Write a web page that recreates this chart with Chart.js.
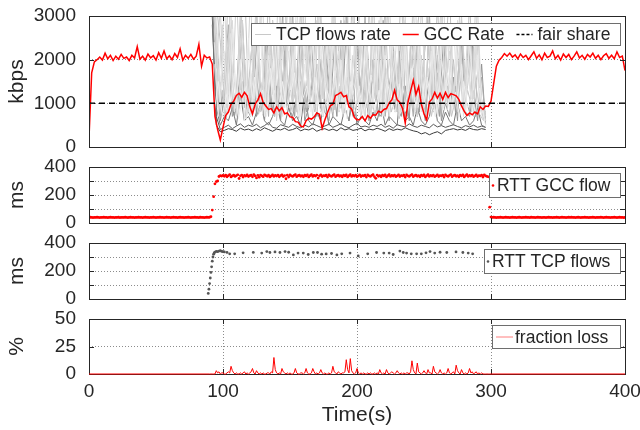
<!DOCTYPE html>
<html>
<head>
<meta charset="utf-8">
<script src="https://cdn.jsdelivr.net/npm/chart.js@4.4.1/dist/chart.umd.min.js"></script>
<style>
  html, body { margin: 0; padding: 0; background: #fff; }
  #wrap { position: relative; width: 640px; height: 430px; overflow: hidden; }
  #wrap canvas { position: absolute; left: 0; }
</style>
</head>
<body>
<div id="wrap">
  <canvas id="cRate" width="640" height="157" style="top:0px"></canvas>
  <canvas id="cRttGcc" width="640" height="76" style="top:157px"></canvas>
  <canvas id="cRttTcp" width="640" height="76" style="top:233px"></canvas>
  <canvas id="cLoss" width="640" height="121" style="top:309px"></canvas>
</div>
<script>
// ---- data ----
const fairShare = 1000;                       // kbps

// tick values and labels
const timeTicks = [0, 100, 200, 300, 400];
const rateTicks = [0, 1000, 2000, 3000];
const rateTickLabels = ['0', '1000', '2000', '3000'];
const rttTicks = [0, 100, 200, 300, 400];
const rttTickLabels = ['0', '', '200', '', '400'];
const lossTicks = [0, 25, 50];
const lossTickLabels = ['0', '25', '50'];

// GCC sending rate, one sample every 2 s from t = 0
const gccStart = 0, gccStep = 2;
const gccRate = [
  200, 1700, 1950, 2000, 2060, 1990, 2150, 2020, 2100, 1980,
  2080, 2010, 2120, 2030, 2060, 1980, 2100, 2040, 2300, 2010,
  2080, 1990, 2130, 2040, 2090, 1990, 2160, 2030, 2200, 2020,
  2090, 2000, 2140, 2050, 2250, 1990, 2100, 2030, 2120, 2010,
  2080, 2350, 1850, 2100, 2040, 2060, 1900, 700, 400, 160,
  450, 720, 800, 980, 1050, 1180, 1230, 1140, 1250, 1170,
  920, 760, 980, 1080, 1220, 1020, 940, 860, 880, 780,
  920, 830, 900, 760, 780, 690, 680, 580, 570, 480,
  460, 600, 660, 640, 690, 780, 750, 430, 620, 790,
  940, 980, 1180, 1210, 1250, 1150, 1180, 920, 870, 680,
  620, 630, 700, 600, 720, 660, 740, 730, 820, 790,
  860, 880, 1010, 1080, 1300, 1080, 1020, 880, 550, 1020,
  1280, 1530, 1200, 1380, 980, 760, 620, 1030, 1100, 1250,
  1120, 1230, 1090, 1250, 1130, 1220, 1200, 1170, 1090, 940,
  820, 720, 780, 740, 800, 760, 920, 860, 940, 930,
  1050, 1450, 1850, 1990, 2050, 2140, 2080, 2150, 2060, 2110,
  2020, 2130, 2050, 2100, 2000, 2090, 2180, 2030, 2110, 2000,
  2150, 2050, 2080, 2200, 2020, 2100, 1990, 2130, 2050, 2120,
  2000, 2080, 2180, 2040, 2100, 2010, 2120, 2060, 2150, 2030,
  2100, 2000, 2090, 2140, 2030, 2100, 2020, 2180, 2050, 2080,
  1750
];

// competing TCP flows, one sample every 3 s; two groups with staggered start times
const tcpStep = 3;
const tcpStartA = 92, tcpStartB = 93.5;
const tcpColorsA = ['#e8e8e8', '#dadada', '#d0d0d0', '#c2c2c2', '#acacac', '#939393', '#767676', '#555555', '#3a3a3a'];
const tcpColorsB = ['#eeeeee', '#e2e2e2', '#d4d4d4', '#c4c4c4', '#9a9a9a'];
const tcpFlowsA = [
  [3500, 3000, 1500, 2200, 800, 2700, 1100, 2000, 600, 2500,
   900, 1800, 2600, 700, 2100, 1000, 2800, 1300, 900, 2400,
   1500, 2900, 700, 1900, 1100, 2500, 800, 2200, 1600, 700,
   2600, 1000, 2000, 900, 2800, 1200, 1700, 700, 2400, 1300,
   900, 2700, 1100, 2100, 700, 2500, 1400, 900, 2300, 1000,
   1800, 2900, 800, 1600, 1200, 2600, 700, 2000, 1500, 900,
   2700, 1100, 1900, 800, 2400, 1300, 2100, 900, 500],
  [3800, 2600, 900, 3400, 1200, 2900, 700, 3100, 1500, 800,
   2700, 1100, 3300, 900, 2400, 1600, 700, 3000, 1300, 2200,
   800, 3500, 1000, 2600, 1400, 700, 2900, 1200, 2100, 900,
   3200, 1100, 2500, 800, 1800, 3100, 1000, 2300, 1500, 700,
   2800, 1200, 3400, 900, 2000, 1300, 2700, 800, 3000, 1100,
   2400, 900, 3300, 1400, 800, 2600, 1000, 3100, 1200, 2200,
   900, 2900, 1500, 800, 2500, 1100, 3200, 1000, 600],
  [4000, 1800, 3200, 700, 2500, 1000, 3600, 1300, 2100, 900,
   1700, 3400, 800, 2300, 1200, 2900, 600, 1900, 3500, 1000,
   2600, 800, 2000, 3300, 1100, 1700, 900, 3100, 1400, 2400,
   800, 2700, 1300, 3600, 900, 2100, 1200, 2800, 700, 3200,
   1500, 2500, 800, 2200, 3500, 1000, 1800, 900, 2900, 1300,
   3400, 700, 2100, 1100, 2800, 900, 1900, 3300, 1000, 2500,
   1200, 800, 3000, 1400, 2300, 700, 2700, 1100, 700],
  [3900, 3300, 2400, 1100, 3700, 1400, 900, 2600, 3800, 1200,
   1000, 3100, 1500, 900, 3600, 1200, 2300, 800, 1700, 3900,
   1100, 1500, 3200, 900, 2400, 1300, 3700, 1000, 1800, 900,
   3400, 1200, 900, 2900, 1600, 3800, 1000, 1400, 2500, 900,
   3600, 1100, 1700, 3200, 900, 2200, 1400, 3700, 1000, 1600,
   900, 2700, 3500, 1200, 1800, 900, 3300, 1300, 2100, 3600,
   1000, 1500, 2800, 900, 3400, 1200, 1700, 900, 800],
  [3600, 2200, 700, 1500, 2800, 800, 1200, 3000, 900, 1400,
   700, 2400, 1000, 1800, 700, 2900, 1100, 800, 2200, 1300,
   3100, 800, 1500, 700, 2600, 1000, 1900, 800, 2500, 1200,
   700, 1700, 2900, 900, 1300, 700, 2300, 1100, 3000, 800,
   1600, 900, 2700, 700, 1400, 2000, 800, 2800, 1000, 1500,
   700, 2500, 1200, 800, 3100, 900, 1700, 700, 2400, 1000,
   2000, 700, 2900, 1100, 800, 2300, 900, 1600, 600],
  [3200, 1500, 600, 1100, 2300, 700, 900, 1800, 600, 1300,
   2500, 700, 1000, 600, 1900, 800, 1400, 600, 2200, 900,
   700, 1200, 2600, 600, 900, 1600, 700, 2000, 800, 600,
   1500, 700, 2400, 900, 600, 1100, 2800, 700, 1300, 600,
   2000, 800, 700, 1700, 600, 2300, 900, 700, 1400, 600,
   2600, 700, 1100, 600, 1800, 800, 2100, 600, 1000, 700,
   1600, 600, 2400, 800, 700, 1300, 600, 1900, 500],
  [2800, 900, 500, 700, 600, 900, 500, 1200, 600, 700,
   500, 800, 1500, 600, 500, 700, 1000, 600, 500, 900,
   600, 700, 500, 1300, 600, 500, 800, 600, 1100, 500,
   700, 600, 500, 900, 600, 1400, 500, 700, 600, 500,
   800, 600, 1000, 500, 700, 600, 500, 1600, 600, 700,
   500, 900, 600, 500, 700, 1200, 600, 500, 800, 600,
   500, 1000, 600, 700, 500, 600, 900, 500, 450],
  [3000, 700, 400, 450, 500, 420, 480, 530, 450, 500,
   470, 520, 440, 490, 560, 450, 430, 510, 480, 450,
   520, 470, 440, 500, 460, 530, 490, 450, 480, 520,
   450, 490, 530, 470, 440, 500, 540, 460, 480, 450,
   500, 470, 520, 450, 490, 430, 510, 480, 460, 530,
   480, 450, 500, 470, 440, 520, 460, 490, 450, 480,
   510, 470, 440, 490, 460, 500, 450, 480, 450],
  [3500, 500, 350, 380, 420, 400, 360, 430, 390, 410,
   370, 420, 380, 440, 400, 360, 410, 390, 430, 380,
   400, 440, 370, 410, 390, 430, 360, 400, 420, 380,
   410, 370, 440, 390, 420, 380, 400, 430, 370, 410,
   390, 430, 400, 360, 420, 380, 410, 390, 440, 400,
   370, 350, 300, 330, 280, 320, 350, 300, 380, 400,
   420, 390, 410, 380, 430, 400, 390, 420, 400]
];
const tcpFlowsB = [
  [800, 1500, 700, 1200, 900, 1700, 650, 1100, 1400, 700,
   1600, 900, 1300, 700, 1800, 1000, 750, 1500, 850, 1200,
   1700, 700, 1100, 1400, 800, 1600, 950, 700, 1300, 1000,
   1750, 800, 1200, 650, 1500, 900, 1400, 750, 1100, 1650,
   850, 1300, 700, 1550, 1000, 800, 1450, 700, 1200, 1800,
   900, 1300, 750, 1600, 1000, 700, 1400, 850, 1700, 950,
   1250, 700, 1500, 900, 1100, 800, 1350, 700],
  [2400, 700, 1900, 1000, 2600, 800, 1500, 2200, 650, 1800,
   1100, 2500, 750, 1400, 2100, 900, 2700, 700, 1600, 1200,
   2300, 800, 1700, 2600, 900, 1300, 2000, 700, 2500, 1000,
   1500, 2200, 750, 1900, 1100, 2600, 800, 1400, 2300, 700,
   1800, 1000, 2500, 850, 1600, 2100, 700, 2400, 1200, 1700,
   800, 2600, 950, 1500, 2200, 700, 1900, 1100, 2500, 800,
   1600, 2300, 700, 1800, 1000, 2400, 900, 600],
  [3600, 1200, 2800, 900, 3300, 1500, 750, 2900, 1100, 3500,
   1000, 2200, 3400, 800, 2600, 1300, 3700, 900, 2000, 3100,
   1200, 800, 3300, 1600, 2400, 900, 3600, 1100, 2700, 1400,
   3200, 850, 2100, 3500, 1000, 1700, 3000, 800, 2500, 3400,
   1100, 2900, 900, 3600, 1500, 2200, 800, 3100, 1300, 2600,
   3400, 1000, 1800, 3200, 900, 2700, 1200, 3500, 850, 2300,
   1400, 3000, 1000, 2500, 800, 3300, 1100, 700],
  [1900, 900, 1300, 650, 1700, 1000, 800, 1500, 700, 1200,
   1800, 750, 1100, 1600, 900, 700, 1400, 1000, 1900, 800,
   1200, 650, 1700, 900, 1300, 800, 1500, 700, 1100, 1800,
   850, 1400, 700, 1600, 1000, 750, 1300, 1900, 900, 1200,
   700, 1500, 1000, 1800, 800, 1100, 650, 1400, 900, 1700,
   750, 1300, 1000, 1600, 700, 1200, 1900, 850, 1400, 700,
   1100, 1700, 800, 1300, 950, 1500, 750, 600],
  [3400, 2000, 800, 1300, 2500, 700, 1100, 2900, 900, 700,
   2100, 1200, 800, 2700, 1000, 700, 1600, 3000, 850, 1300,
   700, 2300, 1100, 800, 2800, 900, 1400, 700, 2000, 1000,
   2600, 800, 1200, 3100, 900, 700, 1700, 1100, 2400, 800,
   1300, 700, 2900, 1000, 1500, 800, 2200, 900, 700, 2700,
   1100, 800, 1800, 3000, 900, 1300, 700, 2500, 1000, 1600,
   800, 2100, 900, 1400, 2800, 700, 1200, 600]
];

// RTT of the GCC flow, one sample per second from t = 0
const rttGccStart = 0, rttGccStep = 1;
const rttGcc = [
  40, 41, 40, 39, 40, 40, 41, 40, 39, 40, 40, 41, 40, 40, 39, 40, 41, 40, 40, 39,
  40, 40, 41, 39, 40, 40, 40, 41, 40, 39, 40, 41, 40, 40, 39, 40, 40, 41, 40, 40,
  39, 40, 41, 40, 40, 39, 40, 40, 41, 40, 39, 40, 40, 41, 40, 40, 39, 40, 41, 40,
  40, 39, 40, 41, 40, 40, 39, 40, 41, 40, 40, 39, 40, 40, 41, 40, 39, 40, 40, 41,
  40, 40, 39, 41, 40, 40, 39, 40, 41, 40, 41, 45, 92, 188, 280, 296, 300, 332, 338, 335,
  340, 334, 342, 330, 338, 345, 329, 336, 341, 333, 339, 344, 318, 337, 342, 328, 340, 335, 343, 332,
  338, 341, 330, 345, 336, 322, 340, 327, 342, 337, 331, 344, 339, 334, 341, 329, 336, 343, 333, 340,
  335, 342, 330, 338, 344, 332, 339, 316, 341, 328, 343, 337, 333, 340, 345, 331, 338, 342, 334, 339,
  330, 341, 336, 343, 329, 338, 345, 333, 340, 335, 342, 321, 337, 344, 332, 339, 336, 341, 328, 343,
  337, 333, 340, 345, 331, 338, 342, 334, 339, 330, 341, 336, 343, 329, 338, 345, 333, 340, 335, 342,
  331, 337, 344, 332, 339, 336, 341, 328, 343, 337, 333, 340, 345, 331, 319, 342, 334, 339, 330, 341,
  336, 343, 329, 338, 345, 333, 340, 335, 342, 331, 337, 344, 332, 339, 336, 341, 328, 343, 337, 333,
  340, 345, 331, 338, 342, 334, 339, 330, 341, 336, 343, 329, 338, 345, 333, 340, 335, 342, 331, 337,
  344, 332, 339, 336, 341, 328, 343, 337, 333, 340, 345, 331, 338, 342, 334, 339, 330, 341, 336, 343,
  329, 338, 345, 333, 340, 335, 342, 331, 337, 344, 332, 339, 336, 341, 328, 343, 337, 333, 330, 113,
  42, 40, 41, 40, 39, 40, 40, 41, 40, 39, 40, 41, 40, 40, 39, 40, 41, 40, 40, 39,
  40, 41, 40, 39, 40, 40, 41, 40, 40, 39, 41, 40, 40, 39, 40, 41, 40, 40, 39, 40,
  40, 39, 40, 41, 40, 40, 39, 40, 40, 41, 40, 39, 40, 41, 40, 40, 39, 40, 41, 40,
  41, 40, 40, 39, 40, 41, 40, 39, 40, 40, 41, 40, 40, 39, 40, 40, 41, 40, 39, 40,
  40, 40, 41, 40, 39, 40, 41, 40, 40, 39, 40, 40, 41, 40, 39, 40, 41, 40, 40, 39,
  40
];

// RTT of the TCP flows (sparse samples)
const rttTcpTime = [89, 89.5, 90, 90.5, 91, 91.5, 92, 92.5, 93, 93.5, 94, 95, 96, 97, 98, 99, 100, 101, 103, 105,
  108.7, 115, 122.6, 128.9, 132.7, 135, 138.8, 142.5, 146.3, 149, 152.5, 156, 159.9, 163.6, 167.4, 170.5, 173.6,
  177, 181, 185, 188.6, 194.8, 200.9, 208, 214.6, 220, 224, 227, 232, 234.5, 237, 240.5, 244.5, 248, 251.5,
  254.5, 258, 262, 267, 273.9, 279, 283, 286.3];
const rttTcp = [40, 70, 110, 150, 190, 230, 270, 300, 320, 330, 335, 340, 338, 342, 345, 340, 338, 336, 333, 323,
  323, 330, 333, 328, 339, 332, 336, 332, 339, 334, 315, 328, 328, 318, 332, 332, 320,
  322, 325, 315, 323, 328, 308, 323, 332, 328, 328, 318, 342, 332, 328, 323, 323, 323, 330,
  339, 328, 334, 332, 336, 332, 328, 323];

// fraction loss (%), one sample per second from t = 90 to 300; zero elsewhere
const lossStart = 90, lossStep = 1;
const lossPct = [
  0, 0, 0, 0, 0, 3, 1, 2, 0, 1,
  1, 0, 0, 1, 2, 1, 7, 3, 1, 0,
  1, 0, 0, 1, 0, 1, 2, 0, 1, 0,
  1, 2, 5, 1, 0, 3, 1, 0, 1, 0,
  1, 0, 0, 1, 1, 0, 2, 1, 15, 4,
  1, 0, 1, 0, 5, 2, 1, 0, 1, 0,
  1, 0, 0, 1, 5, 1, 0, 0, 1, 1,
  0, 1, 5, 1, 0, 0, 1, 5, 2, 0,
  1, 0, 1, 4, 1, 0, 1, 0, 0, 1,
  0, 1, 7, 2, 1, 0, 2, 1, 0, 1,
  1, 2, 13, 4, 1, 14, 3, 1, 0, 1,
  5, 1, 0, 1, 0, 1, 0, 0, 1, 0,
  1, 0, 0, 1, 0, 1, 0, 4, 1, 0,
  1, 0, 4, 1, 0, 1, 2, 1, 0, 1,
  3, 1, 0, 1, 0, 1, 0, 1, 1, 0,
  2, 12, 4, 1, 0, 10, 2, 1, 0, 1,
  3, 1, 0, 4, 1, 1, 0, 7, 2, 1,
  0, 1, 4, 1, 0, 1, 0, 1, 5, 1,
  0, 1, 2, 0, 8, 3, 1, 0, 4, 1,
  0, 1, 0, 1, 5, 1, 2, 0, 1, 2,
  0, 1, 0, 1, 0, 0, 0, 0, 0, 0, 0
];
const timeMin = 0, timeMax = 400;

// ---- helpers ----
const FONT = '"Liberation Sans", Arial, Helvetica, sans-serif';
const INK = '#262626';
const GRID = '#8c8c8c';

const series = (vals, start, step) => vals.map((v, i) => ({ x: start + i * step, y: v }));

// box around the axes with inward tick marks (MATLAB style)
const framePlugin = {
  id: 'frame',
  _draw(chart) {
    const { ctx, chartArea: a, scales: { x, y } } = chart;
    ctx.save();
    ctx.strokeStyle = INK;
    ctx.lineWidth = 1;
    ctx.setLineDash([]);
    ctx.strokeRect(Math.round(a.left) + 0.5, Math.round(a.top) + 0.5,
      Math.round(a.right - a.left), Math.round(a.bottom - a.top));
    ctx.beginPath();
    x.ticks.forEach(t => {
      if (t.value <= x.min || t.value >= x.max) return;
      const p = Math.round(x.getPixelForValue(t.value)) + 0.5;
      ctx.moveTo(p, a.bottom); ctx.lineTo(p, a.bottom - 5);
      ctx.moveTo(p, a.top); ctx.lineTo(p, a.top + 5);
    });
    y.ticks.forEach(t => {
      if (t.value <= y.min || t.value >= y.max) return;
      const p = Math.round(y.getPixelForValue(t.value)) + 0.5;
      ctx.moveTo(a.left, p); ctx.lineTo(a.left + 5, p);
      ctx.moveTo(a.right, p); ctx.lineTo(a.right - 5, p);
    });
    ctx.stroke();
    ctx.restore();
  },
  beforeDatasetsDraw(chart, args, o) { if (o.under) this._draw(chart); },
  afterDatasetsDraw(chart, args, o) { if (!o.under) this._draw(chart); }
};

// legend box inside the plot, anchored to the top-right corner
const legendPlugin = {
  id: 'boxLegend',
  afterDraw(chart, args, o) {
    if (!o.items) return;
    const { ctx, chartArea: a } = chart;
    ctx.save();
    ctx.font = `${o.size}px ${FONT}`;
    const widths = o.items.map(it => ctx.measureText(it.label).width);
    let w = o.padL + o.padR;
    o.items.forEach((it, i) => { w += it.sample + o.gap + widths[i] + (i ? o.itemGap : 0); });
    const x0 = Math.round(a.right - o.right - w), y0 = Math.round(a.top + o.top);
    ctx.fillStyle = '#fff';
    ctx.fillRect(x0, y0, w, o.height);
    ctx.strokeStyle = '#6e6e6e';
    ctx.lineWidth = 1;
    ctx.strokeRect(x0 + 0.5, y0 + 0.5, Math.round(w), o.height);
    const yc = y0 + o.height / 2 + 0.5;
    let x = x0 + o.padL;
    o.items.forEach((it, i) => {
      ctx.strokeStyle = it.color;
      ctx.fillStyle = it.color;
      if (it.kind === 'dot') {
        ctx.beginPath();
        ctx.arc(x + it.sample / 2, yc, 1.3, 0, Math.PI * 2);
        ctx.fill();
      } else {
        ctx.lineWidth = it.width || 1;
        ctx.setLineDash(it.dash || []);
        ctx.beginPath();
        ctx.moveTo(x, yc); ctx.lineTo(x + it.sample, yc);
        ctx.stroke();
        ctx.setLineDash([]);
      }
      ctx.fillStyle = INK;
      ctx.textBaseline = 'middle';
      ctx.fillText(it.label, x + it.sample + o.gap, yc + 1);
      x += it.sample + o.gap + widths[i] + o.itemGap;
    });
    ctx.restore();
  }
};

// y tick labels, written last so nothing can cover them
const yLabelPlugin = {
  id: 'yLabels',
  afterDraw(chart, args, o) {
    if (!o.values) return;
    const { ctx } = chart;
    const y = chart.scales.y;
    ctx.save();
    ctx.font = `19px ${FONT}`;
    ctx.fillStyle = INK;
    ctx.textAlign = 'right';
    ctx.textBaseline = 'middle';
    o.values.forEach((v, i) => {
      if (o.labels[i]) ctx.fillText(o.labels[i], y.right - 13, y.getPixelForValue(v));
    });
    ctx.restore();
  }
};

function xAxis(labels, height) {
  return {
    type: 'linear', min: timeMin, max: timeMax,
    afterBuildTicks(s) { s.ticks = timeTicks.map(v => ({ value: v })); },
    ticks: { display: labels, autoSkip: false, maxRotation: 0, padding: 6,
             color: INK, font: { family: FONT, size: 19 } },
    grid: { color: GRID, drawTicks: false, borderDash: [1, 2] },
    border: { display: false, dash: [1, 2] },
    title: { display: labels, text: 'Time(s)', color: INK, font: { family: FONT, size: 21 },
             padding: { top: 0, bottom: 2 } },
    afterFit(s) { s.height = height; s.paddingLeft = 0; s.paddingRight = 0; }
  };
}

function yAxis(tickValues, title) {
  return {
    type: 'linear', min: tickValues[0], max: tickValues[tickValues.length - 1],
    afterBuildTicks(s) { s.ticks = tickValues.map(v => ({ value: v })); },
    ticks: { display: false },
    grid: { color: GRID, drawTicks: false, borderDash: [1, 2] },
    border: { display: false, dash: [1, 2] },
    title: { display: true, text: title, color: INK, font: { family: FONT, size: 21 },
             padding: { top: 5, bottom: 0 } },
    afterFit(s) { s.width = 89; s.paddingTop = 0; s.paddingBottom = 0; }
  };
}

function makeChart(id, datasets, scales, padding, legend, yLabels, under) {
  return new Chart(document.getElementById(id), {
    type: 'line',
    data: { datasets },
    options: {
      responsive: false,
      animation: false,
      events: [],
      layout: { padding },
      scales,
      plugins: {
        legend: { display: false },
        tooltip: { enabled: false },
        frame: { under: !!under },
        boxLegend: legend,
        yLabels
      }
    },
    plugins: [framePlugin, legendPlugin, yLabelPlugin]
  });
}

// ---- panel 1: rates ----
const tcpLine = (f, start, color, order) => ({
  data: series(f, start, tcpStep), borderColor: color, borderWidth: 1, pointRadius: 0, tension: 0, order
});
const rateSets = [];
tcpFlowsA.forEach((f, i) => rateSets.push(tcpLine(f, tcpStartA, tcpColorsA[i], 30 + 2 * i)));
tcpFlowsB.forEach((f, i) => rateSets.push(tcpLine(f, tcpStartB, tcpColorsB[i], 31 + 2 * i)));
rateSets.push({
  data: series(gccRate, gccStart, gccStep),
  borderColor: '#ff0000', borderWidth: 1.5, pointRadius: 0, tension: 0, order: 1
});
rateSets.push({
  data: [{ x: timeMin, y: fairShare }, { x: timeMax, y: fairShare }],
  borderColor: '#000', borderWidth: 1.5, borderDash: [6, 4], pointRadius: 0, order: 0
});
makeChart('cRate', rateSets,
  { x: xAxis(false, 0), y: yAxis(rateTicks, 'kbps') },
  { top: 16, bottom: 10, left: 0, right: 15 },
  { size: 17.5, top: 7, right: 5, height: 22, padL: 4, padR: 10, gap: 5, itemGap: 12,
    items: [
      { label: 'TCP flows rate', kind: 'line', color: '#c8c8c8', sample: 16 },
      { label: 'GCC Rate', kind: 'line', color: '#ff0000', sample: 16, width: 1.5 },
      { label: 'fair share', kind: 'line', color: '#000', sample: 16, dash: [3, 2], width: 1.3 }
    ] },
  { values: rateTicks, labels: rateTickLabels });

// ---- panel 2: RTT GCC ----
makeChart('cRttGcc', [{
    data: series(rttGcc, rttGccStart, rttGccStep), showLine: false,
    pointRadius: 1.4, pointBorderWidth: 0, pointBackgroundColor: '#ff0000', borderColor: '#ff0000'
  }],
  { x: xAxis(false, 0), y: yAxis(rttTicks, 'ms') },
  { top: 10, bottom: 10, left: 0, right: 15 },
  { size: 17.5, top: 6, right: 5, height: 24, padL: 2, padR: 10, gap: 2, itemGap: 0,
    items: [{ label: 'RTT GCC flow', kind: 'dot', color: '#ff0000', sample: 4 }] },
  { values: rttTicks, labels: rttTickLabels });

// ---- panel 3: RTT TCP ----
makeChart('cRttTcp', [{
    data: rttTcpTime.map((t, i) => ({ x: t, y: rttTcp[i] })), showLine: false,
    pointRadius: 1.4, pointBorderWidth: 0, pointBackgroundColor: '#555555', borderColor: '#555555'
  }],
  { x: xAxis(false, 0), y: yAxis(rttTicks, 'ms') },
  { top: 10, bottom: 10, left: 0, right: 15 },
  { size: 17.5, top: 6, right: 5, height: 24, padL: 2, padR: 10, gap: 2, itemGap: 0,
    items: [{ label: 'RTT TCP flows', kind: 'dot', color: '#555555', sample: 4 }] },
  { values: rttTicks, labels: rttTickLabels });

// ---- panel 4: loss ----
const lossPoints = [{ x: timeMin, y: 0 }].concat(series(lossPct, lossStart, lossStep), [{ x: timeMax, y: 0 }]);
makeChart('cLoss', [{
    data: lossPoints, borderColor: '#ff0000', borderWidth: 1, pointRadius: 0, tension: 0, clip: 3
  }],
  { x: xAxis(true, 56), y: yAxis(lossTicks, '%') },
  { top: 10, bottom: 0, left: 0, right: 15 },
  { size: 17.5, top: 6, right: 5, height: 23, padL: 4, padR: 12, gap: 2, itemGap: 0,
    items: [{ label: 'fraction loss', kind: 'line', color: '#ff7f7f', sample: 17 }] },
  { values: lossTicks, labels: lossTickLabels },
  true);
</script>
</body>
</html>
